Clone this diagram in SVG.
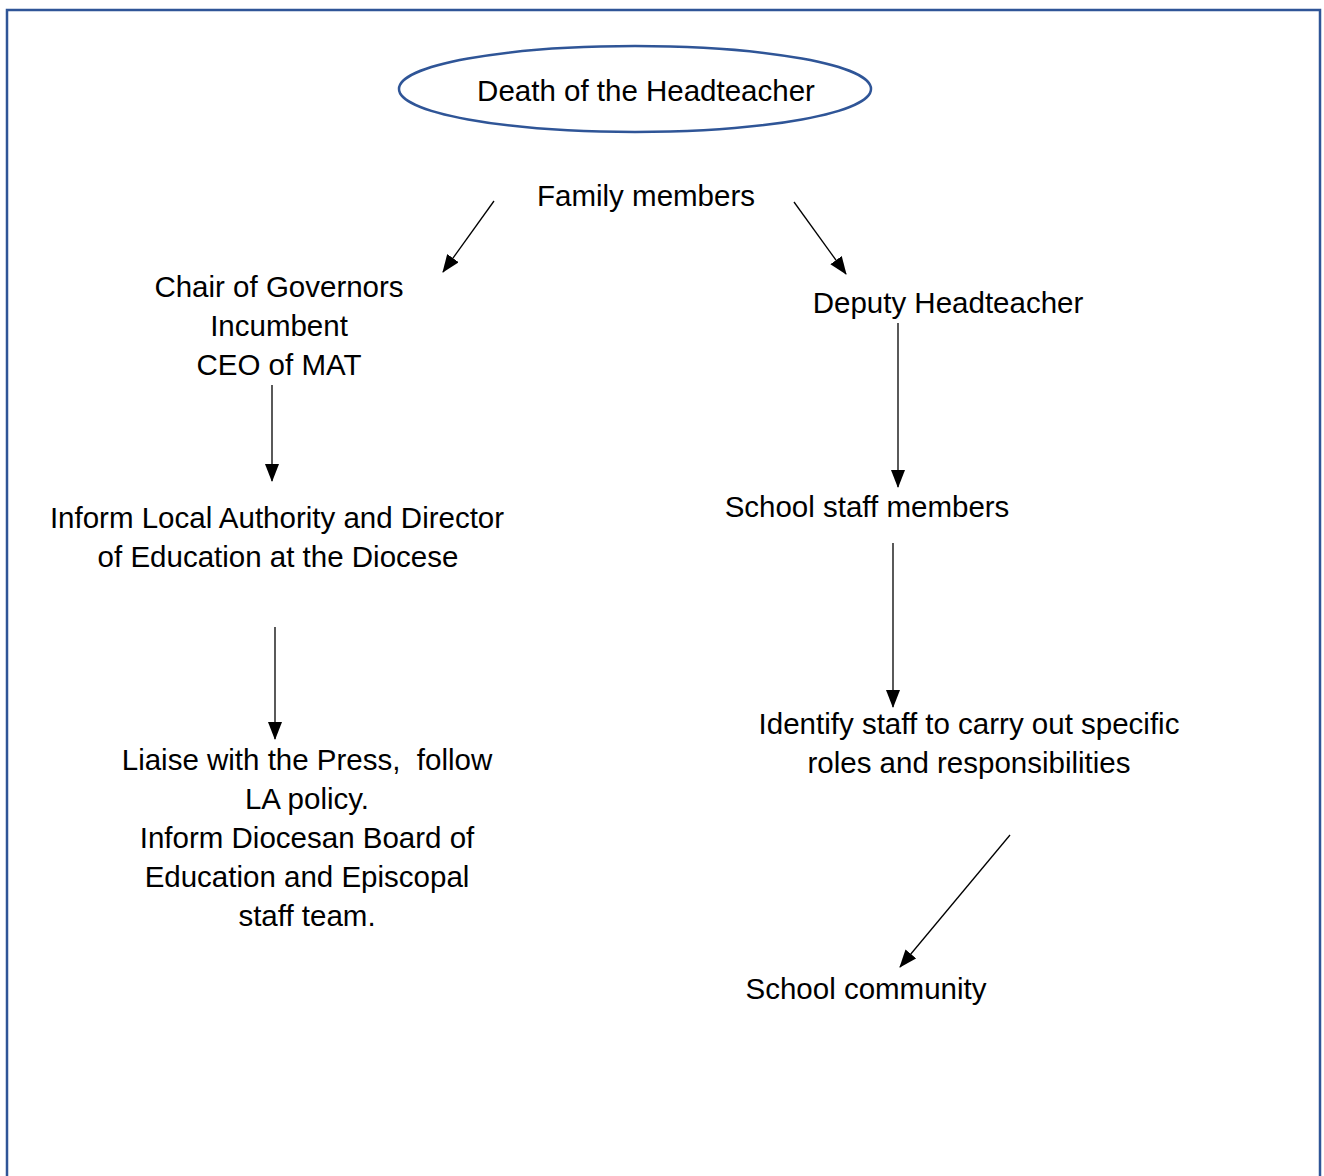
<svg xmlns="http://www.w3.org/2000/svg" width="1324" height="1176" viewBox="0 0 1324 1176">
<style>
text{font-family:"Liberation Sans",Arial,sans-serif;font-size:29.5px;fill:#000;text-anchor:middle}
.c line{stroke:#000;stroke-width:1.3;marker-end:url(#ah)}
</style>
<defs>
<marker id="ah" viewBox="0 0 18 14" refX="17" refY="7" markerWidth="18" markerHeight="14" markerUnits="userSpaceOnUse" orient="auto">
<path d="M0,0 L18,7 L0,14 Z" fill="#000"/>
</marker>
</defs>
<rect width="1324" height="1176" fill="#fff"/>
<rect x="7" y="10" width="1313" height="1180" fill="none" stroke="#2F5597" stroke-width="2.5"/>
<g id="death"><ellipse cx="635" cy="89" rx="236" ry="43" fill="none" stroke="#2F5597" stroke-width="2.5"/><text x="646" y="101">Death of the Headteacher</text></g>
<g id="family"><text x="646" y="206">Family members</text></g>
<g id="chair"><text x="279" y="297">Chair of Governors</text><text x="279" y="336">Incumbent</text><text x="279" y="375">CEO of MAT</text></g>
<g id="deputy"><text x="948" y="313">Deputy Headteacher</text></g>
<g id="inform"><text x="277" y="528">Inform Local Authority and Director</text><text x="278" y="567">of Education at the Diocese</text></g>
<g id="staff"><text x="867" y="517">School staff members</text></g>
<g id="identify"><text x="969" y="734">Identify staff to carry out specific</text><text x="969" y="773">roles and responsibilities</text></g>
<g id="liaise"><text x="307" y="770" xml:space="preserve">Liaise with the Press,  follow</text><text x="307" y="809">LA policy.</text><text x="307" y="848">Inform Diocesan Board of</text><text x="307" y="887">Education and Episcopal</text><text x="307" y="926">staff team.</text></g>
<g id="community"><text x="866" y="999">School community</text></g>
<g class="c" id="connectors">
<line x1="494" y1="201" x2="443" y2="272"/>
<line x1="794" y1="202" x2="846" y2="274"/>
<line x1="272" y1="385" x2="272" y2="481"/>
<line x1="898" y1="323" x2="898" y2="487"/>
<line x1="275" y1="627" x2="275" y2="739"/>
<line x1="893" y1="543" x2="893" y2="707"/>
<line x1="1010" y1="835" x2="900" y2="967"/>
</g>
</svg>
